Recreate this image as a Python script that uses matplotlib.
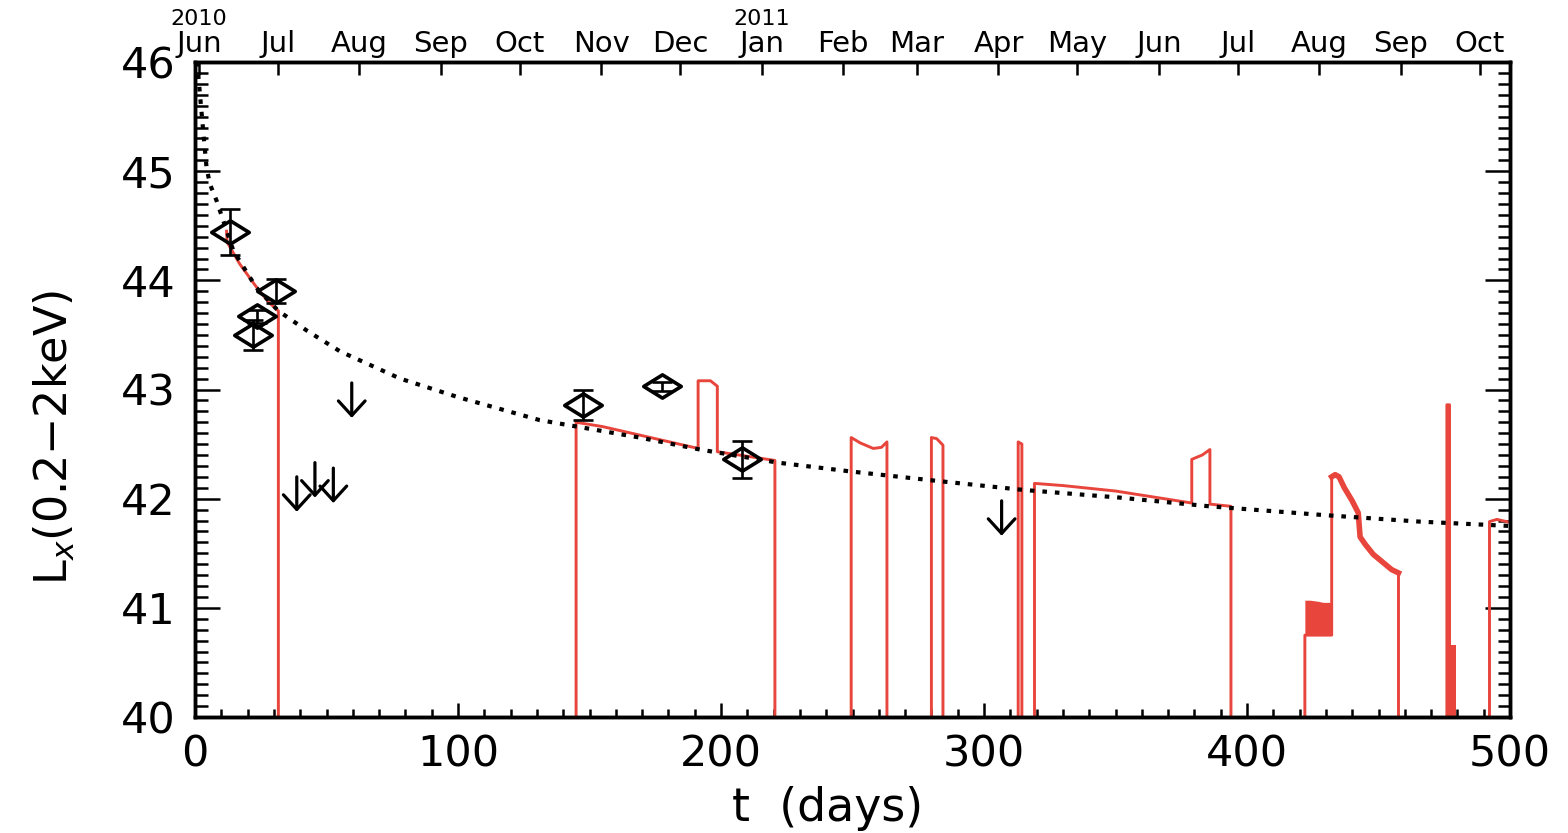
import numpy as np
import matplotlib
matplotlib.use("Agg")
import matplotlib.pyplot as plt
import matplotlib.transforms as mtransforms
from matplotlib.path import Path
from matplotlib.ticker import MultipleLocator

# detections (days, log Lx, error)
t_det = [13.3, 30.8, 23.4, 22.2, 147.7, 177.4, 207.9]
lx_det = [44.44, 43.90, 43.67, 43.50, 42.86, 43.03, 42.36]
lx_err = [0.21, 0.11, 0.06, 0.14, 0.14, 0.04, 0.17]

# upper limits (value at the top of each arrow)
t_ul = [38.7, 45.6, 52.6, 59.6, 306.7]
lx_ul = [42.20, 42.33, 42.28, 43.06, 41.98]

# dotted model curve
t_mod = [0.8, 1.9, 3.0, 4.4, 5.7, 8.2, 14.6, 23.4, 31.7, 42.5, 55.1, 78.0,
         100.0, 131.0, 169.0, 192.0, 221.6, 249.0, 283.2, 315.0, 351.5,
         385.7, 429.0, 465.5, 500.0]
lx_mod = [46.0, 45.7, 45.4, 45.03, 44.88, 44.73, 44.27, 43.93, 43.72, 43.54,
          43.35, 43.10, 42.93, 42.72, 42.56, 42.45, 42.33, 42.25, 42.16, 42.08,
          42.01, 41.93, 41.85, 41.79, 41.75]

# red light curve, values below 40 fall off the plot
t_red = [12.0, 12.2, 17.0, 23.0, 28.0, 31.7, 31.7,
         144.9, 144.9, 155.0, 191.3, 191.3, 196.0, 198.6, 198.6, 220.5, 220.5,
         249.5, 249.5, 253.0, 257.9, 261.0, 263.1, 263.1,
         280.0, 280.0, 282.0, 284.4, 284.4,
         313.0, 313.0, 314.4, 314.4,
         319.2, 319.2, 330.0, 350.0, 379.0, 379.0, 383.0, 385.9, 385.9, 393.9, 393.9,
         422.0, 422.0, 432.2, 432.2]
lx_red = [44.45, 44.35, 44.15, 43.95, 43.80, 43.72, 39.0,
          39.0, 42.70, 42.66, 42.46, 43.08, 43.08, 43.03, 42.43, 42.35, 39.0,
          39.0, 42.56, 42.51, 42.46, 42.47, 42.52, 39.0,
          39.0, 42.56, 42.55, 42.49, 39.0,
          39.0, 42.52, 42.50, 39.0,
          39.0, 42.14, 42.12, 42.07, 41.96, 42.36, 42.40, 42.45, 41.95, 41.93, 39.0,
          39.0, 40.75, 40.75, 42.20]

# decline after the Aug 2011 rise (drawn thick) and the last points
t_fall = [432.2, 433.5, 435.0, 437.0, 440.0, 442.3, 443.0, 445.0, 448.0,
          451.0, 453.0, 455.0, 457.6, 457.6,
          476.0, 476.0, 477.0, 477.0, 492.2, 492.2, 495.0, 500.5]
lx_fall = [42.20, 42.22, 42.20, 42.10, 41.98, 41.87, 41.65, 41.58, 41.49,
           41.43, 41.39, 41.35, 41.32, 39.0,
           39.0, 42.86, 42.86, 39.0, 39.0, 41.79, 41.81, 41.78]

# filled blocks
blk1_t = [422.0, 424.0, 427.0, 429.0, 432.2]
blk1_lo = [40.75, 40.76, 40.75, 40.76, 40.75]
blk1_hi = [41.07, 41.07, 41.06, 41.05, 41.05]
blk2_t = [476.0, 479.3]
blk2_lo = [39.0, 39.0]
blk2_hi = [40.66, 40.66]

# top axis months
month_dates = np.arange('2010-06', '2011-11', dtype='datetime64[M]')
month_labels = ['Jun', 'Jul', 'Aug', 'Sep', 'Oct', 'Nov', 'Dec', 'Jan', 'Feb',
                'Mar', 'Apr', 'May', 'Jun', 'Jul', 'Aug', 'Sep', 'Oct']
t_ref = np.datetime64('2010-05-30T12:00')
years = ['2010', '2011']
year_idx = [0, 7]

red = '#e8453c'
plt.rcParams['font.family'] = ['DejaVu Sans']
plt.rcParams['mathtext.fontset'] = 'dejavusans'

fig = plt.figure(figsize=(15.68, 8.33), dpi=100)
ax = fig.add_axes([195 / 1568, 1 - 717 / 833, 1315 / 1568, 655 / 833])

ax.plot(t_red, lx_red, color=red, lw=2.1, zorder=2)
ax.plot(t_fall, lx_fall, color=red, lw=2.1, zorder=2)
ax.plot(t_fall[:13], lx_fall[:13], color=red, lw=4.0, zorder=2)
ax.fill_between(blk1_t, blk1_lo, blk1_hi, color=red, lw=0, zorder=2)
ax.fill_between(blk2_t, blk2_lo, blk2_hi, color=red, lw=0, zorder=2)

ax.plot(t_mod, lx_mod, color='black', lw=3.0, linestyle=(0, (1.1, 1.9)), zorder=3)

diamond = Path([(-1, 0), (0, 0.62), (1, 0), (0, -0.62), (-1, 0)],
               [Path.MOVETO, Path.LINETO, Path.LINETO, Path.LINETO, Path.CLOSEPOLY])
ax.errorbar(t_det, lx_det, yerr=lx_err, fmt='none', ecolor='black',
            elinewidth=1.9, capsize=7, capthick=1.9, zorder=4)
ax.plot(t_det, lx_det, linestyle='none', marker=diamond, markersize=27,
        markerfacecolor='none', markeredgecolor='black', markeredgewidth=2.6, zorder=4)

for t, l in zip(t_ul, lx_ul):
    ax.annotate('', xy=(t, l - 0.32), xytext=(t, l),
                arrowprops=dict(arrowstyle='->,head_length=0.35,head_width=0.32',
                                lw=2.3, color='black', mutation_scale=30,
                                shrinkA=0, shrinkB=0), zorder=4)

ax.set_xlim(0, 500)
ax.set_ylim(40, 46)
ax.xaxis.set_major_locator(MultipleLocator(100))
ax.xaxis.set_minor_locator(MultipleLocator(10))
ax.yaxis.set_major_locator(MultipleLocator(1))
ax.yaxis.set_minor_locator(MultipleLocator(0.1))
ax.tick_params(axis='x', which='both', direction='in', top=False, width=1.8,
               labelsize=31, pad=12)
ax.tick_params(axis='x', which='major', length=10)
ax.tick_params(axis='x', which='minor', length=6)
ax.tick_params(axis='y', which='both', direction='in', left=True, right=True,
               width=1.8, labelsize=31, pad=14)
ax.tick_params(axis='y', which='major', length=18)
ax.tick_params(axis='y', which='minor', length=9)

ax.set_xlabel('t  (days)', fontsize=33)
ax.xaxis.set_label_coords(0.481, -0.105)
ax.set_ylabel(r'L$_x$(0.2$-$2keV)', fontsize=32)
ax.yaxis.set_label_coords(-0.09, 0.427)

ax2 = ax.twiny()
ax2.set_xlim(0, 500)
month_t = (month_dates.astype('datetime64[h]') - t_ref) / np.timedelta64(1, 'D')
ax2.set_xticks(month_t)
ax2.set_xticklabels(month_labels)
ax2.tick_params(axis='x', direction='in', length=9, width=1.8, labelsize=21, pad=3)

trans = mtransforms.blended_transform_factory(ax.transData, ax.transAxes)
for name, i in zip(years, year_idx):
    ax.text(month_t[i], 1.056, name, transform=trans, ha='center',
            va='baseline', fontsize=16)

for a in (ax, ax2):
    for s in a.spines.values():
        s.set_linewidth(2.5)

fig.savefig('out.png', dpi=100)
